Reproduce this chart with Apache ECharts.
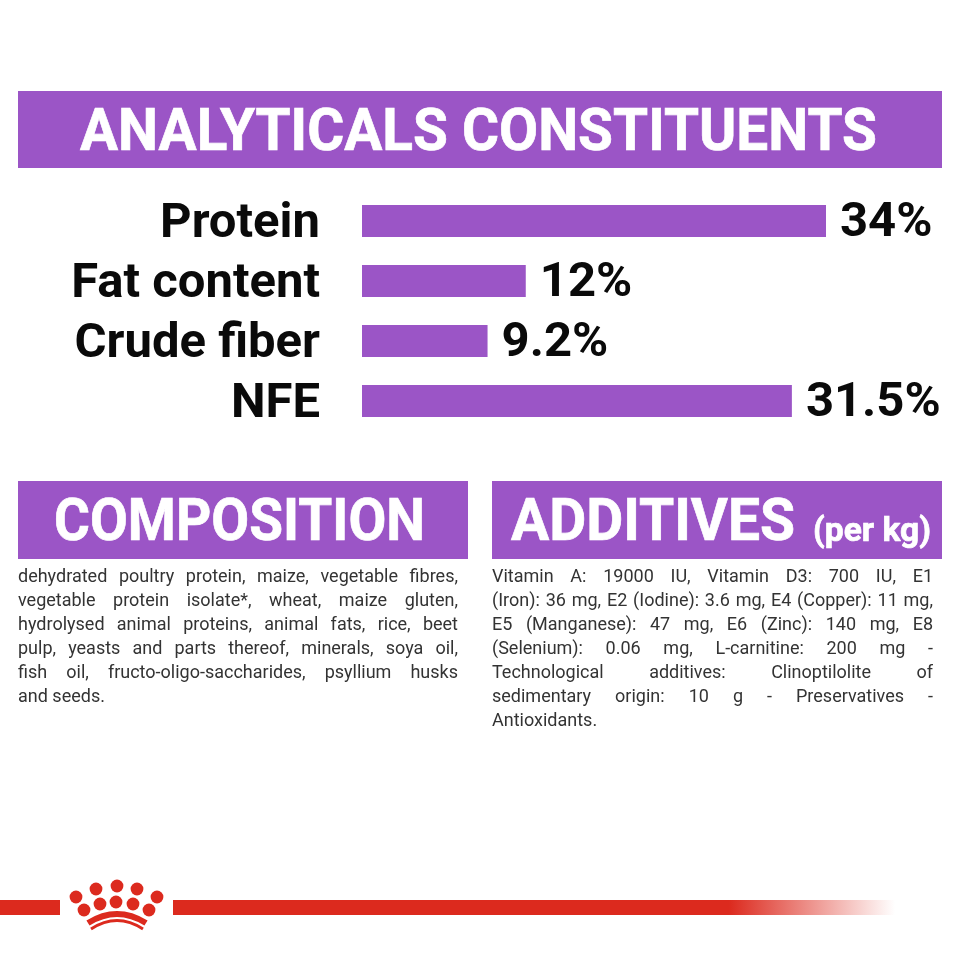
<!DOCTYPE html>
<html>
<head>
<meta charset="utf-8">
<style>
  html, body { margin: 0; padding: 0; background: #fff; }
  #chart { width: 960px; height: 960px; }
</style>
<script src="https://cdn.jsdelivr.net/npm/echarts@6/dist/echarts.min.js"></script>
</head>
<body>
<div id="chart"></div>
<script>
const categories = ['Protein', 'Fat content', 'Crude fiber', 'NFE']
const values = [34, 12, 9.2, 31.5]
const valueLabels = ['34%', '12%', '9.2%', '31.5%']

const compositionLines = [
  'dehydrated poultry protein, maize, vegetable fibres,',
  'vegetable protein isolate*, wheat, maize gluten,',
  'hydrolysed animal proteins, animal fats, rice, beet',
  'pulp, yeasts and parts thereof, minerals, soya oil,',
  'fish oil, fructo-oligo-saccharides, psyllium husks',
  'and seeds.'
]
const additivesLines = [
  'Vitamin A: 19000 IU, Vitamin D3: 700 IU, E1',
  '(Iron): 36 mg, E2 (Iodine): 3.6 mg, E4 (Copper): 11 mg,',
  'E5 (Manganese): 47 mg, E6 (Zinc): 140 mg, E8',
  '(Selenium): 0.06 mg, L-carnitine: 200 mg -',
  'Technological additives: Clinoptilolite of',
  'sedimentary origin: 10 g - Preservatives -',
  'Antioxidants.'
]

const PURPLE = '#9b55c6'
const RED = '#dc2a1e'
const HEAD_FONT = 'bold 60px Roboto'
const BODY_FONT = '18px Roboto'
const BODY_COLOR = '#333'

const measure = document.createElement('canvas').getContext('2d')
function textWidth(text, font) {
  measure.font = font
  return measure.measureText(text).width
}

// 文本横向拉伸到指定宽度，模拟原图的窄字体
function fitText(text, x, y, width, font, fill) {
  return {
    type: 'text',
    x,
    y,
    scaleX: width / textWidth(text, font),
    style: { text, font, fill, stroke: fill, lineWidth: 0.7, textAlign: 'left', textVerticalAlign: 'middle' }
  }
}

// 两端对齐：按词排版，最后一行不拉伸
function justified(lines, x, top, width) {
  const out = []
  lines.forEach((line, i) => {
    const words = line.split(' ')
    const last = i === lines.length - 1
    const used = words.reduce((sum, w) => sum + textWidth(w, BODY_FONT), 0)
    const gap = last ? textWidth(' ', BODY_FONT) : (width - used) / (words.length - 1)
    let cursor = x
    words.forEach(word => {
      out.push({
        type: 'text',
        x: cursor,
        y: top + i * 24,
        style: { text: word, font: BODY_FONT, fill: BODY_COLOR, textAlign: 'left', textVerticalAlign: 'middle' }
      })
      cursor += textWidth(word, BODY_FONT) + gap
    })
  })
  return out
}

function banner(x, y, width, height) {
  return { type: 'rect', shape: { x, y, width, height }, style: { fill: PURPLE } }
}

function dot(cx, cy) {
  return { type: 'circle', shape: { cx, cy, r: 6.4 }, style: { fill: RED } }
}

function band(x1, y1, cx, cy, x2, y2, lineWidth) {
  return {
    type: 'bezierCurve',
    shape: { x1, y1, cpx1: cx, cpy1: cy, x2, y2 },
    style: { stroke: RED, lineWidth, fill: null }
  }
}

const crown = [
  dot(76, 897), dot(96, 889), dot(117, 886), dot(137, 889), dot(157, 897),
  dot(84, 910), dot(100, 904), dot(116, 902), dot(133, 904), dot(149, 910),
  band(88, 923, 117, 905, 146, 923, 6),
  band(91, 929, 117, 912, 143, 929, 3)
]

const ribbons = [
  { type: 'rect', shape: { x: 0, y: 900, width: 60, height: 15 }, style: { fill: RED } },
  {
    type: 'rect',
    shape: { x: 173, y: 900, width: 722, height: 15 },
    style: {
      fill: new echarts.graphic.LinearGradient(0, 0, 1, 0, [
        { offset: 0, color: RED },
        { offset: 0.77, color: RED },
        { offset: 1, color: 'rgba(220,42,30,0)' }
      ])
    }
  }
]

const chart = echarts.init(document.getElementById('chart'))
chart.setOption({
  backgroundColor: '#fff',
  animation: false,
  grid: { left: 362, top: 191, width: 464, height: 240 },
  xAxis: { type: 'value', min: 0, max: 34, show: false },
  yAxis: {
    type: 'category',
    inverse: true,
    data: categories,
    axisLine: { show: false },
    axisTick: { show: false },
    axisLabel: {
      interval: 0,
      margin: 42,
      formatter: '{cat|{value}}',
      rich: {
        cat: {
          color: '#0a0a0a',
          fontFamily: 'Roboto',
          fontWeight: 'bold',
          fontSize: 49,
          padding: [8, 0, 0, 0]
        }
      }
    }
  },
  series: [
    {
      type: 'bar',
      data: values,
      barWidth: 32,
      itemStyle: { color: PURPLE },
      label: {
        show: true,
        position: 'right',
        distance: 14,
        offset: [0, 3],
        color: '#0a0a0a',
        fontFamily: 'Roboto',
        fontWeight: 'bold',
        fontSize: 49,
        formatter: p => valueLabels[p.dataIndex]
      }
    }
  ],
  graphic: [
    banner(18, 91, 924, 77),
    banner(18, 481, 450, 78),
    banner(492, 481, 450, 78),
    fitText('ANALYTICALS CONSTITUENTS', 80, 135, 797, HEAD_FONT, '#fff'),
    fitText('COMPOSITION', 54, 525, 371, HEAD_FONT, '#fff'),
    fitText('ADDITIVES', 511, 525, 284, HEAD_FONT, '#fff'),
    fitText('(per kg)', 813, 532, 118, 'bold 34px Roboto', '#fff'),
    ...justified(compositionLines, 18, 577, 440),
    ...justified(additivesLines, 492, 577, 441),
    ...ribbons,
    ...crown
  ]
})
</script>
</body>
</html>
